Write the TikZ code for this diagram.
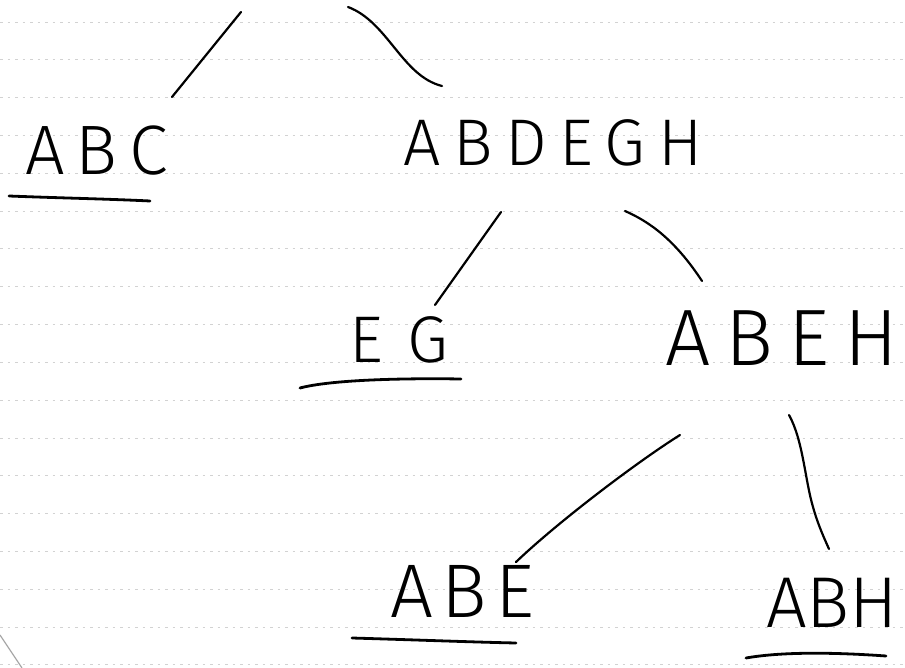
\documentclass[tikz,border=0pt]{standalone}
\usepackage{fontspec}
\newfontfamily\hand{Fira Sans Light}
\tikzset{
  word/.style={anchor=base west, inner sep=0pt, text=black},
  pen/.style={line width=2.2pt, line cap=round, black},
  uline/.style={line width=2.8pt, line cap=round, black},
  rule/.style={line width=0.9pt, gray!35, dash pattern=on 2.5pt off 5pt}
}
\begin{document}
\begin{tikzpicture}[x=1pt,y=-1pt]
\useasboundingbox (0,0) rectangle (905,668);
\fill[white] (0,0) rectangle (905,668);
% ruled paper
\foreach \k in {0,...,17}{
  \draw[rule] (0,{22+37.82*\k}) -- (905,{22+37.82*\k});
}
% words
\node[word, font=\hand\fontsize{70}{70}\selectfont\addfontfeature{LetterSpace=16}] (abc) at (25,175) {ABC};
\node[word, font=\hand\fontsize{66}{66}\selectfont\addfontfeature{LetterSpace=19}] (abdegh) at (403,166) {ABDEGH};
\node[word, font=\hand\fontsize{66}{66}\selectfont\addfontfeature{LetterSpace=38}] (eg) at (349,362) {EG};
\node[word, font=\hand\fontsize{80}{80}\selectfont\addfontfeature{LetterSpace=19}] (abeh) at (665,365) {ABEH};
\node[word, font=\hand\fontsize{76}{76}\selectfont\addfontfeature{LetterSpace=11}] (abe) at (390,617) {ABE};
\node[word, font=\hand\fontsize{72}{72}\selectfont] (abh) at (766,627) {ABH};
% connector ends
\coordinate (t1) at (241,12);
\coordinate (t2) at (348,7);
\coordinate (abc-top) at (172,97);
\coordinate (abdegh-top) at (442,86);
\coordinate (abdegh-l) at (501,212);
\coordinate (abdegh-r) at (625,211);
\coordinate (eg-top) at (435,305);
\coordinate (abeh-top) at (702,281);
\coordinate (abeh-l) at (680,435);
\coordinate (abeh-r) at (789,415);
\coordinate (abe-top) at (516,562);
\coordinate (abh-top) at (829,549);
% connectors
\draw[pen] (t1) -- (abc-top);
\draw[pen] (t2) .. controls (388,22) and (402,76) .. (abdegh-top);
\draw[pen] (abdegh-l) -- (eg-top);
\draw[pen] (abdegh-r) .. controls (650,222) and (675,240) .. (abeh-top);
\draw[pen] (abeh-l) .. controls (640,460) and (560,520) .. (abe-top);
\draw[pen] (abeh-r) .. controls (803,440) and (805,480) .. (813,507) .. controls (818,525) and (825,540) .. (abh-top);
% underlines
\draw[uline] (9,196) .. controls (60,198) and (110,199) .. (150,201);
\draw[uline] (300,388) .. controls (330,380) and (400,378) .. (461,379);
\draw[uline] (352,638) .. controls (420,640) and (470,642) .. (516,643);
\draw[uline] (746,658) .. controls (780,652) and (830,652) .. (886,656);
% stray pencil mark
\draw[line width=1.2pt, gray!70] (0,635) -- (22,668);
\end{tikzpicture}
\end{document}
